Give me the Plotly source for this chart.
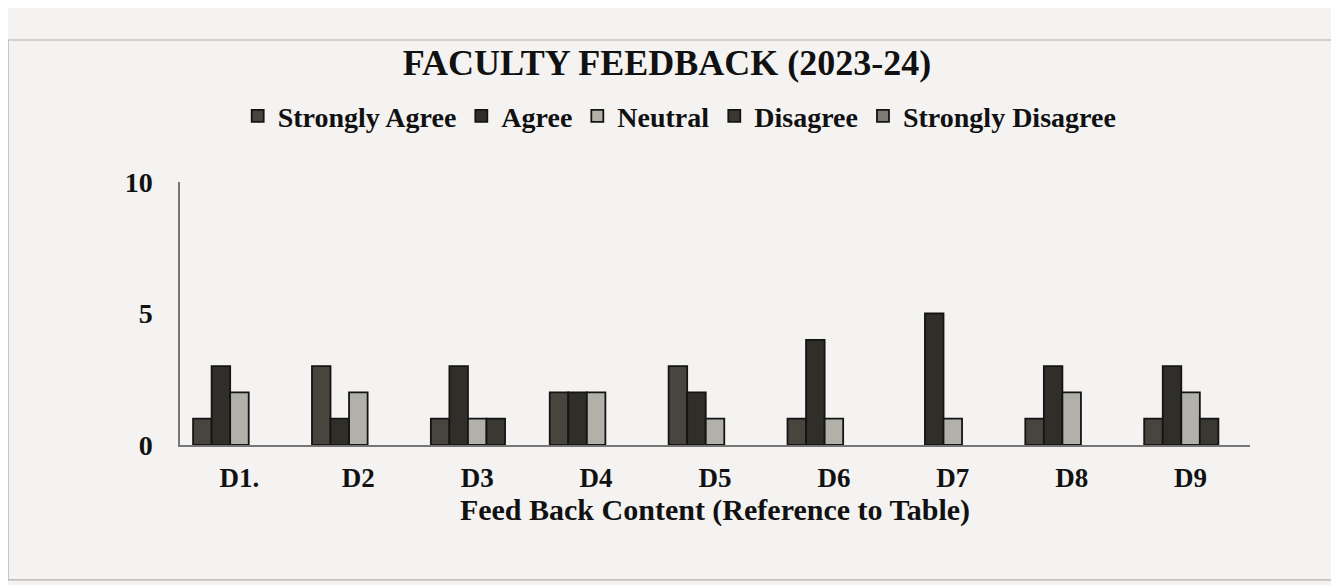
import plotly.graph_objects as go

categories = ["D1.", "D2", "D3", "D4", "D5", "D6", "D7", "D8", "D9"]
strongly_agree = [1, 3, 1, 2, 3, 1, 0, 1, 1]
agree = [3, 1, 3, 2, 2, 4, 5, 3, 3]
neutral = [2, 2, 1, 2, 1, 1, 1, 2, 2]
disagree = [0, 0, 1, 0, 0, 0, 0, 0, 1]
strongly_disagree = [0, 0, 0, 0, 0, 0, 0, 0, 0]

series = [
    ("Strongly Agree", strongly_agree, "#48453e"),
    ("Agree", agree, "#302e29"),
    ("Neutral", neutral, "#b1b0a9"),
    ("Disagree", disagree, "#3a3832"),
    ("Strongly Disagree", strongly_disagree, "#7c7b76"),
]

FONT = "Liberation Serif, Times New Roman, serif"

fig = go.Figure()
for name, vals, col in series:
    fig.add_trace(go.Bar(
        x=categories, y=[v if v else None for v in vals], name="<b>" + name + "</b>",
        marker=dict(color=col, line=dict(color="#141414", width=1.8)),
    ))

# page body offset of 8px compensated in margins
fig.update_layout(
    width=1339, height=585,
    paper_bgcolor="#f4f3f1", plot_bgcolor="#f4f3f1",
    margin=dict(l=172, r=97, t=174, b=148),
    barmode="group", bargap=0.22, bargroupgap=0,
    font=dict(family=FONT, color="#111111"),
    title=dict(text="<b>FACULTY FEEDBACK (2023-24)</b>", x=(667 - 8) / 1339, xanchor="center",
               xref="container", y=1 - (62 - 8) / 585, yref="container", yanchor="middle",
               font=dict(size=36, family=FONT, color="#111111")),
    legend=dict(orientation="h", x=0.467, xanchor="center", y=1.25, yanchor="middle",
                font=dict(size=28, family=FONT, color="#111111"),
                bgcolor="rgba(0,0,0,0)", itemwidth=30, traceorder="normal"),
    showlegend=True,
)

fig.update_xaxes(
    showline=True, linecolor="#777777", linewidth=1.5,
    showgrid=False, ticks="outside", ticklen=8, tickcolor="rgba(0,0,0,0)",
    tickfont=dict(size=27, family=FONT, color="#111111"),
    tickprefix="<b>", ticksuffix="</b>",
    title=dict(text="<b>Feed Back Content (Reference to Table)</b>",
               font=dict(size=30, family=FONT, color="#111111"), standoff=0),
)
fig.update_yaxes(
    range=[0, 10], dtick=5, showline=True, linecolor="#777777", linewidth=1.5,
    showgrid=False, zeroline=False, ticks="outside", ticklen=20,
    tickcolor="rgba(0,0,0,0)",
    tickfont=dict(size=28, family=FONT, color="#111111"),
    tickprefix="<b>", ticksuffix="</b>",
)

fig.add_shape(type="rect", xref="paper", yref="paper",
              x0=-0.1607, x1=1.0794, y0=-0.513, y1=1.54,
              line=dict(color="#b0b0b0", width=1.2), layer="below")

fig.write_html("out.html")
